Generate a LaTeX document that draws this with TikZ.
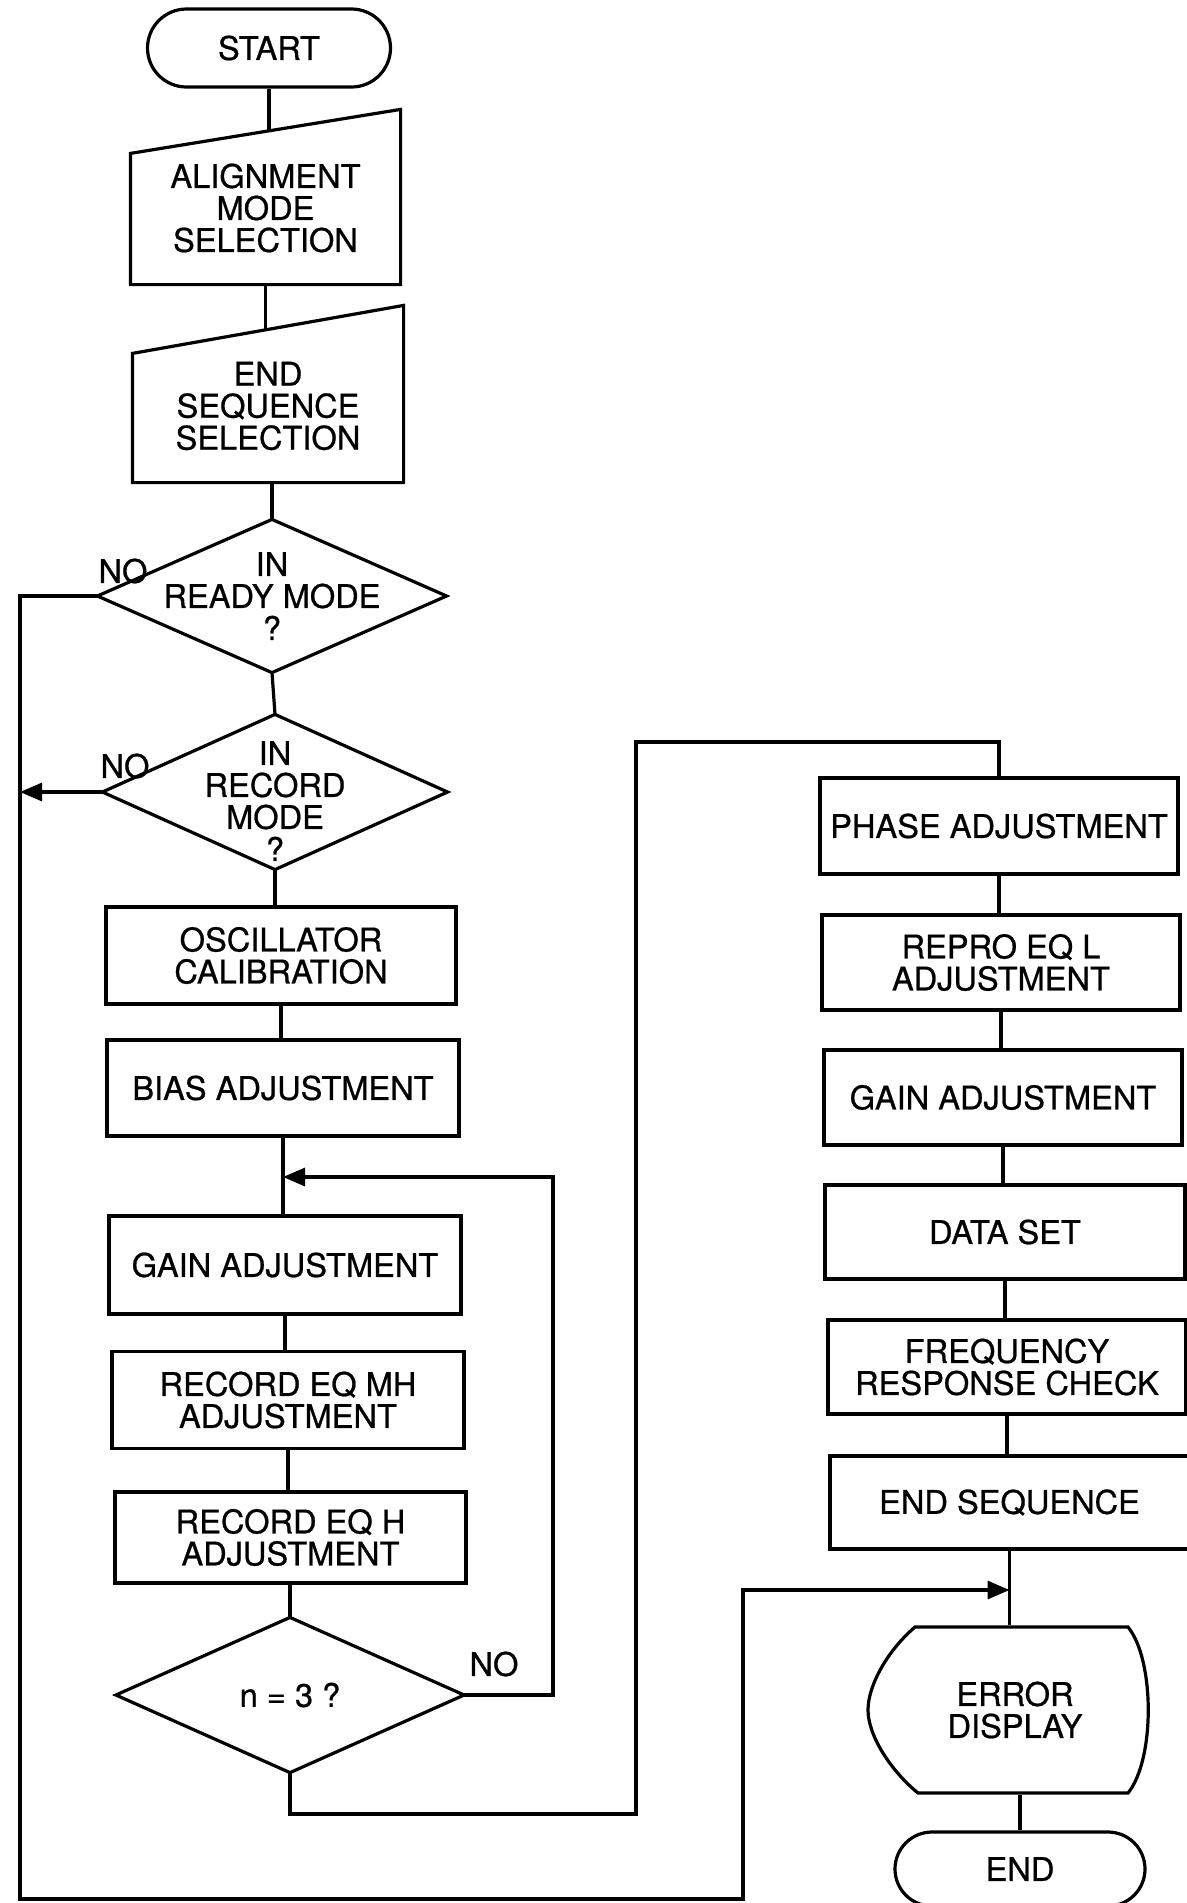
\documentclass[tikz,border=0pt]{standalone}
\usepackage{fontspec}
\setmainfont{TeX Gyre Heros}[UprightFeatures={FakeBold=0.7}]
\usetikzlibrary{arrows.meta,shapes.misc}
\begin{document}
\begin{tikzpicture}[x=0.5pt,y=-0.5pt,line width=1.6pt,
  every node/.style={font=\fontsize{16.3}{16}\selectfont,align=center,inner sep=0pt},
  proc/.style={draw,rectangle},
  term/.style={draw,rounded rectangle},
  blank/.style={rectangle},
  flow/.style={-{Triangle[length=11pt,width=9pt]}}]
\useasboundingbox (0,0) rectangle (1187,1903);

% left column
\node[term,minimum width=121.5pt,minimum height=39pt] (start) at (269,48) {START};
\node[blank,minimum width=133.5pt,minimum height=75pt] (align) at (265.5,208) {ALIGNMENT\\MODE\\SELECTION};
\draw (align.south west) -- (align.south east) -- ([yshift=11pt]align.north east) -- ([yshift=-11pt]align.north west) -- cycle;
\node[blank,minimum width=134pt,minimum height=75pt] (esel) at (268,406) {END\\SEQUENCE\\SELECTION};
\draw (esel.south west) -- (esel.south east) -- ([yshift=12pt]esel.north east) -- ([yshift=-12pt]esel.north west) -- cycle;
\node[blank,minimum width=173pt,minimum height=75pt] (rdy) at (272,596) {IN\\READY MODE\\?};
\draw (rdy.north) -- (rdy.east) -- (rdy.south) -- (rdy.west) -- cycle;
\node[blank,minimum width=171pt,minimum height=76pt] (rec) at (275,792) {};
\draw (rec.north) -- (rec.east) -- (rec.south) -- (rec.west) -- cycle;
\node (rect) at ([yshift=-4.5pt]rec.center) {IN\\RECORD\\MODE\\?};
\node[proc,minimum width=175pt,minimum height=48.5pt] (osc) at (281,955.5) {OSCILLATOR\\CALIBRATION};
\node[proc,minimum width=176pt,minimum height=48pt] (bias) at (283,1088) {BIAS ADJUSTMENT};
\node[proc,minimum width=176pt,minimum height=49pt] (gainl) at (285,1265) {GAIN ADJUSTMENT};
\node[proc,minimum width=176pt,minimum height=48.5pt] (recmh) at (288,1400) {RECORD EQ MH\\ADJUSTMENT};
\node[proc,minimum width=175.5pt,minimum height=45.5pt] (rech) at (290.5,1537.5) {RECORD EQ H\\ADJUSTMENT};
\node[blank,minimum width=172.5pt,minimum height=76pt] (d3) at (290,1695) {n = 3 ?};
\draw (d3.north) -- (d3.east) -- (d3.south) -- (d3.west) -- cycle;

% right column
\node[proc,minimum width=179pt,minimum height=48pt] (phase) at (999,826) {PHASE ADJUSTMENT};
\node[proc,minimum width=179pt,minimum height=47.5pt] (repro) at (1001,962.5) {REPRO EQ L\\ADJUSTMENT};
\node[proc,minimum width=179pt,minimum height=47.5pt] (gainr) at (1003,1097.5) {GAIN ADJUSTMENT};
\node[proc,minimum width=180pt,minimum height=47pt] (data) at (1005,1232) {DATA SET};
\node[proc,minimum width=179pt,minimum height=47pt] (freq) at (1007,1367) {FREQUENCY\\RESPONSE CHECK};
\node[proc,minimum width=179.5pt,minimum height=46.5pt] (endseq) at (1009.5,1502.5) {END SEQUENCE};
\node[blank,minimum width=140pt,minimum height=83.5pt] (err) at (1015,1710) {ERROR\\DISPLAY};
\draw[shift={(err.center)}] (-100,-83) -- (113,-83)
  .. controls (140,-50) and (140,50) .. (113,83) -- (-97,83)
  .. controls (-125,60) and (-147,25) .. (-147,0)
  .. controls (-147,-25) and (-127,-60) .. (-100,-83) -- cycle;
\node[term,minimum width=125pt,minimum height=37pt] (endn) at (1020,1869) {END};

% labels
\node (no1) at (123,571) {NO};
\node (no2) at (125,766) {NO};
\node (no3) at (494,1664) {NO};

% connectors
\draw (start.south) -- (start.south |- align.north);
\draw (align.south) -- (align.south |- esel.north);
\draw (rdy.north |- esel.south) -- (rdy.north);
\draw (rdy.south) -- (rec.north);
\draw (rec.south) -- (rec.south |- osc.north);
\draw (osc.south) -- (osc.south |- bias.north);
\draw (bias.south) -- (bias.south |- gainl.north);
\draw (gainl.south) -- (gainl.south |- recmh.north);
\draw (recmh.south) -- (recmh.south |- rech.north);
\draw (d3.north |- rech.south) -- (d3.north);

\coordinate (loopr) at (553,1177);
\coordinate (loopin) at (bias.south |- loopr);
\draw[flow] (d3.east) -| (loopr) -- (loopin);

\coordinate (c1) at (636,1814);
\coordinate (c2) at (636,742);
\draw (d3.south) |- (c1) -- (c2) -| (phase.north);

\draw (phase.south) -- (phase.south |- repro.north);
\draw (repro.south) -- (repro.south |- gainr.north);
\draw (gainr.south) -- (gainr.south |- data.north);
\draw (data.south) -- (data.south |- freq.north);
\draw (freq.south) -- (freq.south |- endseq.north);
\draw (endseq.south) -- (endseq.south |- err.north);
\draw (endn.north |- err.south) -- (endn.north);

\coordinate (lb) at (20,1899);
\coordinate (c3) at (743,1899);
\coordinate (c4) at (743,1590);
\draw[flow] (rdy.west) -| (lb) -- (c3) -- (c4) -- (endseq.south |- c4);
\draw[flow] (rec.west) -- (rec.west -| lb);
\end{tikzpicture}
\end{document}
